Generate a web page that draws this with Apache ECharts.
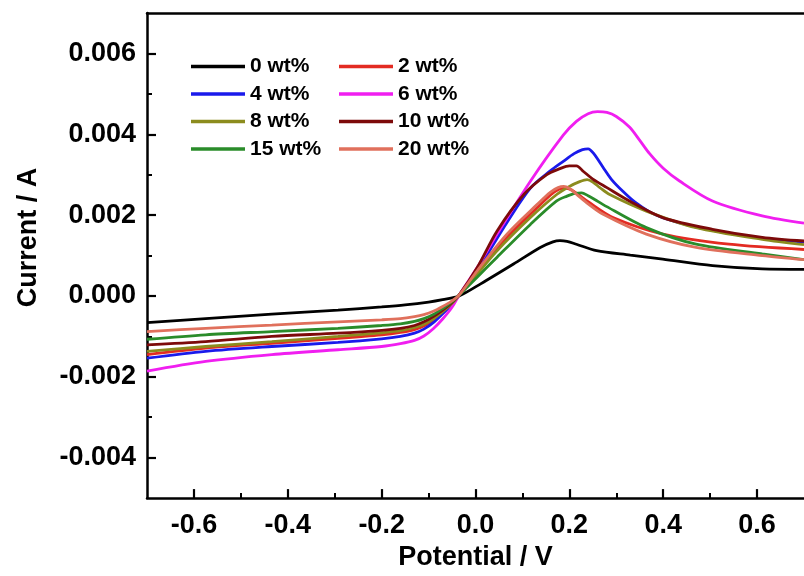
<!DOCTYPE html>
<html>
<head>
<meta charset="utf-8">
<script src="https://cdn.jsdelivr.net/npm/echarts@6/dist/echarts.min.js"></script>
<style>
  html, body { margin: 0; padding: 0; background: #ffffff; }
  #chart { width: 804px; height: 576px; }
</style>
</head>
<body>
<div id="chart"></div>
<script>
// Series names
const seriesNames = ['0 wt%', '2 wt%', '4 wt%', '6 wt%', '8 wt%', '10 wt%', '15 wt%', '20 wt%'];
const seriesColors = ['#000000', '#e32b22', '#1a1aeb', '#f01ef0', '#8c8c1e', '#7d0a0a', '#2a8c2a', '#e0705c'];

// Tick values
const xMajorTicks = [-0.6, -0.4, -0.2, 0.0, 0.2, 0.4, 0.6];
const xMinorTicks = [-0.5, -0.3, -0.1, 0.1, 0.3, 0.5];
const yMajorTicks = [-0.004, -0.002, 0.0, 0.002, 0.004, 0.006];
const yMinorTicks = [-0.003, -0.001, 0.001, 0.003, 0.005];

// Data: [potential (V), current (A)]
const wt0 = [[-0.70,-0.00066],[-0.575,-0.00056],[-0.434,-0.00045],[-0.293,-0.00035],[-0.20,-0.00027],[-0.15,-0.00022],[-0.10,-0.00015],[-0.07,-0.00009],[-0.035,0.0],[0.011,0.0003],[0.081,0.00079],[0.138,0.0012],[0.165,0.00134],[0.18,0.00137],[0.195,0.00135],[0.215,0.00128],[0.258,0.00112],[0.33,0.00101],[0.399,0.00091],[0.505,0.00075],[0.611,0.00067],[0.70,0.00066]];
const wt2 = [[-0.70,-0.00145],[-0.575,-0.00129],[-0.434,-0.00117],[-0.293,-0.00105],[-0.20,-0.00096],[-0.16,-0.0009],[-0.13,-0.00083],[-0.11,-0.00074],[-0.09,-0.0006],[-0.07,-0.00042],[-0.05,-0.0002],[-0.035,0.00002],[0.004,0.00059],[0.067,0.00145],[0.131,0.00218],[0.16,0.0025],[0.178,0.00264],[0.192,0.00267],[0.205,0.00262],[0.22,0.0025],[0.24,0.00233],[0.293,0.00194],[0.399,0.00153],[0.54,0.00128],[0.70,0.00115]];
const wt4 = [[-0.70,-0.00154],[-0.575,-0.00137],[-0.434,-0.00125],[-0.293,-0.00115],[-0.20,-0.00106],[-0.16,-0.001],[-0.13,-0.00092],[-0.11,-0.00082],[-0.09,-0.00066],[-0.07,-0.00044],[-0.05,-0.0002],[-0.035,0.00002],[0.004,0.00063],[0.06,0.00169],[0.117,0.00267],[0.16,0.0031],[0.187,0.00333],[0.21,0.00352],[0.228,0.00362],[0.24,0.00364],[0.252,0.00352],[0.272,0.00318],[0.29,0.00288],[0.314,0.00259],[0.34,0.00232],[0.371,0.00208],[0.40,0.00193],[0.47,0.0017],[0.55,0.00153],[0.62,0.00142],[0.70,0.00133]];
const wt6 = [[-0.70,-0.00186],[-0.575,-0.00162],[-0.434,-0.00145],[-0.293,-0.00133],[-0.20,-0.00125],[-0.16,-0.00118],[-0.13,-0.0011],[-0.11,-0.00099],[-0.09,-0.00081],[-0.07,-0.00057],[-0.05,-0.00028],[-0.035,0.00002],[0.004,0.00071],[0.046,0.00153],[0.117,0.00284],[0.187,0.00398],[0.215,0.00432],[0.24,0.00451],[0.26,0.00456],[0.28,0.00454],[0.30,0.00444],[0.328,0.00418],[0.35,0.00385],[0.371,0.00352],[0.40,0.00316],[0.434,0.00285],[0.505,0.00235],[0.611,0.00198],[0.70,0.0018]];
const wt8 = [[-0.70,-0.00137],[-0.575,-0.00125],[-0.434,-0.00113],[-0.293,-0.001],[-0.20,-0.00091],[-0.16,-0.00086],[-0.13,-0.00078],[-0.11,-0.0007],[-0.09,-0.00057],[-0.07,-0.00039],[-0.05,-0.00018],[-0.035,0.00002],[0.004,0.00055],[0.046,0.00112],[0.117,0.00194],[0.173,0.00251],[0.20,0.00271],[0.222,0.00283],[0.238,0.00288],[0.25,0.00282],[0.265,0.00268],[0.286,0.00251],[0.364,0.0021],[0.47,0.00169],[0.611,0.0014],[0.70,0.00127]];
const wt10 = [[-0.70,-0.00121],[-0.575,-0.00113],[-0.434,-0.001],[-0.293,-0.00092],[-0.20,-0.00085],[-0.16,-0.0008],[-0.13,-0.00073],[-0.11,-0.00064],[-0.09,-0.00051],[-0.07,-0.00035],[-0.05,-0.00016],[-0.035,0.00002],[0.004,0.00071],[0.046,0.00161],[0.103,0.00251],[0.152,0.003],[0.18,0.00315],[0.20,0.00322],[0.215,0.00322],[0.23,0.00308],[0.25,0.00289],[0.28,0.00268],[0.328,0.00235],[0.399,0.00194],[0.505,0.00165],[0.611,0.00145],[0.70,0.00136]];
const wt15 = [[-0.70,-0.00107],[-0.575,-0.00096],[-0.434,-0.00088],[-0.293,-0.0008],[-0.20,-0.00073],[-0.16,-0.00069],[-0.13,-0.00063],[-0.11,-0.00056],[-0.09,-0.00046],[-0.07,-0.00031],[-0.05,-0.00014],[-0.035,0.00002],[0.004,0.00047],[0.046,0.00096],[0.117,0.00177],[0.173,0.00235],[0.195,0.00247],[0.212,0.00254],[0.226,0.00255],[0.24,0.00248],[0.255,0.00238],[0.272,0.00226],[0.364,0.00169],[0.47,0.00128],[0.611,0.00104],[0.70,0.0009]];
const wt20 = [[-0.70,-0.00088],[-0.575,-0.0008],[-0.434,-0.00072],[-0.293,-0.00064],[-0.20,-0.00059],[-0.16,-0.00056],[-0.13,-0.00051],[-0.11,-0.00046],[-0.09,-0.00038],[-0.07,-0.00026],[-0.05,-0.00012],[-0.035,0.00002],[0.004,0.00063],[0.067,0.00153],[0.131,0.00226],[0.16,0.00257],[0.176,0.00268],[0.188,0.00271],[0.20,0.00266],[0.215,0.00252],[0.24,0.00228],[0.272,0.00202],[0.364,0.00153],[0.47,0.0012],[0.611,0.001],[0.70,0.0009]];

const seriesData = [wt0, wt2, wt4, wt6, wt8, wt10, wt15, wt20];

const FONT = '"Liberation Sans", Arial, sans-serif';
const chart = echarts.init(document.getElementById('chart'), null, { renderer: 'canvas' });

const series = seriesNames.map((name, i) => ({
  name: name,
  type: 'line',
  xAxisIndex: 0,
  yAxisIndex: 0,
  data: seriesData[i],
  showSymbol: false,
  symbol: 'none',
  smooth: 0.3,
  lineStyle: { width: 2.8, color: seriesColors[i] },
  itemStyle: { color: seriesColors[i] },
  emphasis: { disabled: true },
  animation: false
}));

const legendBase = {
  orient: 'vertical',
  itemWidth: 54,
  itemHeight: 14,
  itemGap: 6.5,
  icon: 'path://M0,5.5 L54,5.5 L54,9 L0,9 Z',
  textStyle: { fontFamily: FONT, fontSize: 21, fontWeight: 'bold', color: '#000' },
  selectedMode: false
};

const option = {
  backgroundColor: '#ffffff',
  animation: false,
  grid: { left: 147, top: 13, width: 662, height: 489, containLabel: false },
  legend: [
    Object.assign({}, legendBase, { left: 186, top: 51, data: ['0 wt%', '4 wt%', '8 wt%', '15 wt%'] }),
    Object.assign({}, legendBase, { left: 334, top: 51, data: ['2 wt%', '6 wt%', '10 wt%', '20 wt%'] })
  ],
  xAxis: [
    {
      type: 'value', min: -0.7, max: 0.7, position: 'bottom',
      name: 'Potential / V', nameLocation: 'middle', nameGap: 43,
      nameTextStyle: { fontFamily: FONT, fontSize: 27, fontWeight: 'bold', color: '#000' },
      axisLine: { show: true, onZero: false, lineStyle: { color: '#000', width: 2.5 } },
      axisTick: { show: true, inside: true, length: 9, lineStyle: { width: 2.2, color: '#000' }, customValues: xMajorTicks },
      axisLabel: { show: true, margin: 14, fontFamily: FONT, fontSize: 27, fontWeight: 'bold', color: '#000',
                   customValues: xMajorTicks, formatter: v => Number(v).toFixed(1) },
      splitLine: { show: false }
    },
    {
      type: 'value', min: -0.7, max: 0.7, position: 'bottom', offset: 0,
      axisLine: { show: false, onZero: false },
      axisTick: { show: true, inside: true, length: 5, lineStyle: { width: 2, color: '#000' }, customValues: xMinorTicks },
      axisLabel: { show: false },
      splitLine: { show: false }
    },
    {
      type: 'value', min: -0.7, max: 0.7, position: 'top',
      axisLine: { show: true, onZero: false, lineStyle: { color: '#000', width: 2.5 } },
      axisTick: { show: false }, axisLabel: { show: false }, splitLine: { show: false }
    }
  ],
  yAxis: [
    {
      type: 'value', min: -0.005, max: 0.007, position: 'left',
      name: 'Current / A', nameLocation: 'middle', nameGap: 105,
      nameTextStyle: { fontFamily: FONT, fontSize: 27, fontWeight: 'bold', color: '#000', padding: [0, 0, 0, 36] },
      axisLine: { show: true, onZero: false, lineStyle: { color: '#000', width: 2.5 } },
      axisTick: { show: true, inside: true, length: 9, lineStyle: { width: 2.2, color: '#000' }, customValues: yMajorTicks },
      axisLabel: { show: true, margin: 11, fontFamily: FONT, fontSize: 27, fontWeight: 'bold', color: '#000',
                   customValues: yMajorTicks, formatter: v => Number(v).toFixed(3) },
      splitLine: { show: false }
    },
    {
      type: 'value', min: -0.005, max: 0.007, position: 'left', offset: 0,
      axisLine: { show: false, onZero: false },
      axisTick: { show: true, inside: true, length: 5, lineStyle: { width: 2, color: '#000' }, customValues: yMinorTicks },
      axisLabel: { show: false },
      splitLine: { show: false }
    }
  ],
  series: series
};

chart.setOption(option);
</script>
</body>
</html>
